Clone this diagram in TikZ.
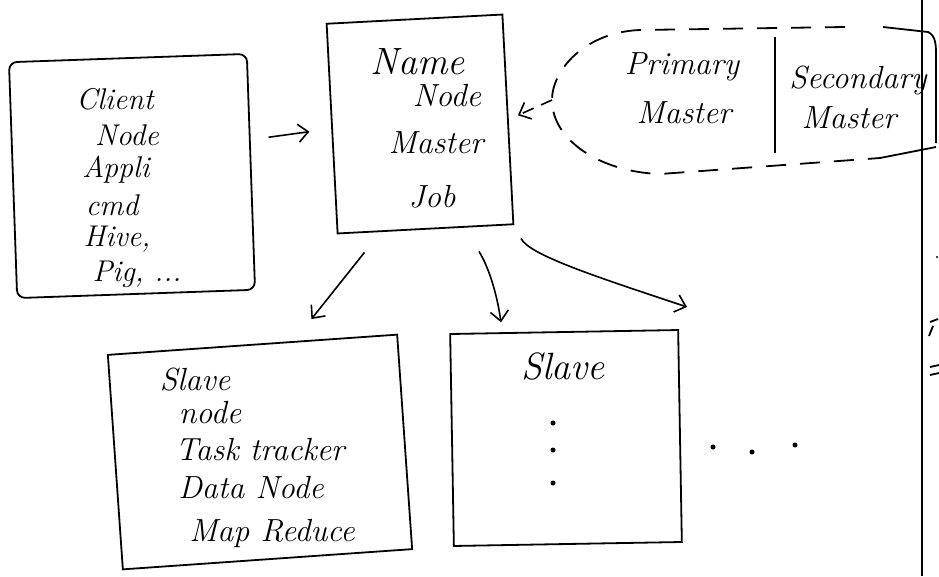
\documentclass[tikz,border=0pt]{standalone}
\usetikzlibrary{arrows.meta}
\begin{document}
\begin{tikzpicture}[x=1pt,y=-1pt,
  box/.style={draw, line width=1.8pt, inner sep=0pt},
  hand/.style={font=\fontsize{32}{34}\selectfont\itshape, inner sep=0pt},
  small/.style={font=\fontsize{30}{32}\selectfont\itshape},
  big/.style={font=\fontsize{38}{40}\selectfont\itshape},
  conn/.style={line width=1.6pt, -{Straight Barb[length=10pt,width=18pt]}},
  dotmark/.style={circle, fill, inner sep=0pt, minimum size=5pt},
  stroke/.style={line width=1.8pt}]
\fill[white] (0,0) rectangle (939,576);
\useasboundingbox (0,0) rectangle (939,576);

% boxes
\node[box, rounded corners=8pt, minimum width=238pt, minimum height=236pt, rotate=2] (client) at (132,176) {};
\node[box, minimum width=176pt, minimum height=210pt, rotate=3] (name) at (420,124) {};
\node[box, minimum width=290pt, minimum height=215pt, rotate=4] (slave1) at (260,452) {};
\node[box, minimum width=228pt, minimum height=212pt, rotate=1] (slave2) at (566,438) {};

% client texts
\node[hand, small] (c1) at (115,99) {Client};
\node[hand, small] (c2) at (127,135) {Node};
\node[hand, small] (c3) at (116,170) {Appli};
\node[hand, small] (c4) at (112,205) {cmd};
\node[hand, small] (c5) at (117,239) {Hive,};
\node[hand, small] (c6) at (137,274) {Pig, ...};

% name node texts
\node[hand, big] (n1) at (418,62) {Name};
\node[hand] (n2) at (447,96) {Node};
\node[hand] (n3) at (436,143) {Master};
\node[hand] (n4) at (432,197) {Job};

% primary / secondary
\node[hand] (pm1) at (682,67) {Primary};
\node[hand] (pm2) at (684,113) {Master};
\node[hand] (sm1) at (858,80) {Secondary};
\node[hand] (sm2) at (849,118) {Master};
\coordinate (divtop) at (775,37);
\coordinate (divbot) at (775,153);
\draw[stroke] (divtop) -- (divbot);

% dashed loop
\coordinate (ell) at (552,100);
\draw[stroke, dash pattern=on 20pt off 14pt] (845,27) -- (640,30)
  .. controls (585,32) and (552,70) .. (ell)
  .. controls (552,140) and (600,172) .. (660,174) -- (880,158);
\draw[stroke] (883,27) -- (928,32) .. controls (936,36) and (936,45) .. (936,57) -- (936,143);
\draw[stroke] (880,158) -- (936,147);
\draw[conn, dash pattern=on 12pt off 8pt, shorten >=10pt] (ell) -- (name.east);

% slave 1 texts
\node[hand] (s1) at (195,380) {Slave};
\node[hand] (s2) at (210,413) {node};
\node[hand] (s3) at (260,450) {Task tracker};
\node[hand] (s4) at (251,488) {Data Node};
\node[hand] (s5) at (272,533) {Map Reduce};

% slave 2
\node[hand, big] (t1) at (563,367) {Slave};
\node[dotmark] (v1) at (553,423) {};
\node[dotmark] (v2) at (553,450) {};
\node[dotmark] (v3) at (553,483) {};
\node[dotmark] (h1) at (713,447) {};
\node[dotmark] (h2) at (752,452) {};
\node[dotmark] (h3) at (795,445) {};

% connectors
\coordinate (far) at (687,307);
\draw[conn, shorten <=18pt, shorten >=22pt] (client.15) -- (name.west);
\draw[conn, shorten <=26pt, shorten >=28pt] (name.-113) -- (slave1.69);
\draw[conn, shorten <=28pt, shorten >=10pt] (name.-70) to[bend left=12] (slave2.120);
\draw[conn, shorten <=15pt] (name.south east) .. controls +(15,30) and +(-90,-30) .. (far);

% right edge line and cut-off marks
\draw[stroke] (922,0) -- (922,576);
\draw[stroke] (930,322) -- (938,319);
\draw[stroke] (929,336) -- (933,326);
\draw[stroke] (930,367) -- (939,365);
\draw[stroke] (930,375) -- (939,373);
\fill (937,257) circle (1.2pt);
\end{tikzpicture}
\end{document}
